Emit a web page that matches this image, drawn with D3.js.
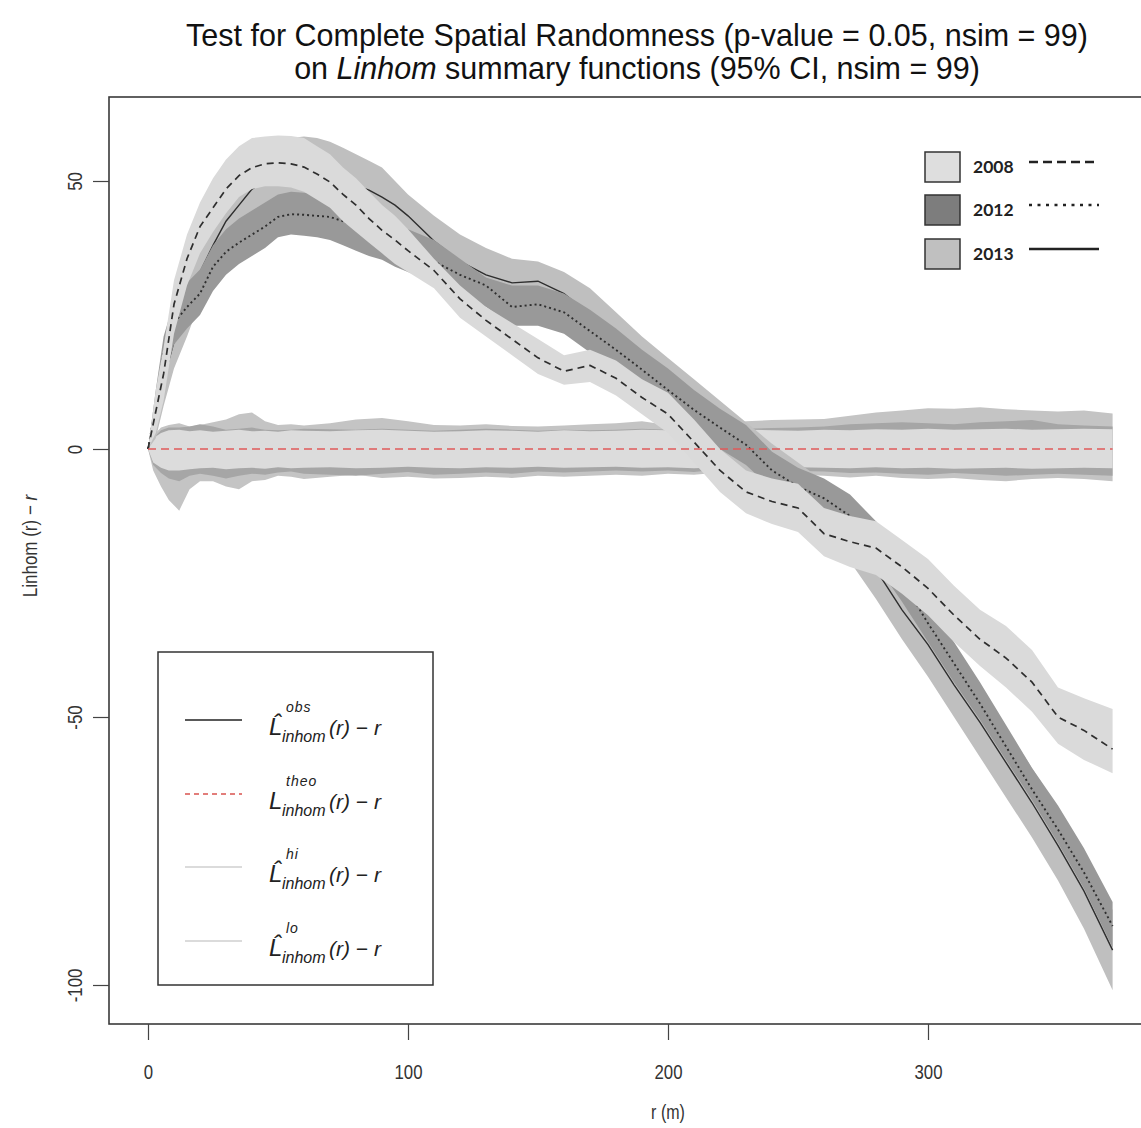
<!DOCTYPE html>
<html>
<head>
<meta charset="utf-8">
<script src="https://cdn.jsdelivr.net/npm/d3@7"></script>
<style>
  body { margin: 0; background: #fff; }
  svg { display: block; font-family: "Liberation Sans", Arial, sans-serif; }
</style>
</head>
<body>
<script>
// distances (m) where the observed curves and their 95% CI are read
var rObs = [0,3,6,10,15,20,25,30,35,40,45,50,55,60,65,70,75,80,85,90,95,100,110,120,130,140,150,160,170,180,190,200,210,220,230,240,250,260,270,280,290,300,310,320,330,340,350,360,371];

var obs2008 = [0,7,14,27,35.5,41.5,45,48.5,51,52.5,53.2,53.4,53.2,52.6,51.3,49.8,47.5,45.5,43,40.8,39,37,33.3,28,24,20.5,17,14.5,15.6,13.2,9.6,6.5,1.3,-4,-8,-9.8,-11,-15.8,-17.3,-18.5,-22,-26,-31,-35.5,-39,-43.5,-50,-52.5,-56];
var lo2008 = [0,3,9,21.5,30.5,36.5,40.5,44,47,48.5,49,49,48.8,48,46.5,45,42.5,40.5,38.5,36.5,34.5,33,30,24.5,21,17.5,14,12,12.5,10,6.5,3,-2.5,-8,-12,-14,-15.5,-20,-22,-23.5,-27,-31,-36,-40.5,-44.5,-49,-55,-58,-60.5];
var hi2008 = [0,11,19,31.5,40,46,50.5,54,56.5,58,58.3,58.5,58.4,58,56.5,55,52.5,50.5,48,45.5,43.5,41,35.5,30.5,26.5,23.5,20.5,17.5,18.5,16.5,13,10.5,5.5,0,-4,-5.5,-6.5,-11,-12.5,-13.5,-17,-20.5,-25.5,-30,-33,-37.5,-44.5,-46.5,-48.5];

var obs2012 = [0,8,18,23.5,26.5,29,34,36.8,38.5,40,41.5,43.3,43.8,43.7,43.5,43.3,42.5,41.5,40.5,39.3,38,37,35,32.5,30.5,26.5,27,25.5,22,18.5,14.8,11,7.3,4,0.8,-4,-7,-9.2,-12.5,-17.5,-24.5,-32.5,-40,-47.5,-55.5,-63.5,-71,-79,-89];
var lo2012 = [0,4,13,19.5,22.5,25,29.5,32.5,34.5,36,37.5,39.5,40,39.8,39.5,39,38,37,36,35.3,34,33,31,28.5,26.5,23,23,21.5,18,14.5,11,7,3.5,0,-3,-7.5,-10.5,-13.5,-16.5,-21.5,-28.5,-36,-43.5,-50.5,-58,-65.5,-73.5,-82,-93];
var hi2012 = [0,11,21,27.5,31,33.5,38,41,43,44.5,46,47.5,48,47.8,47.5,47,46.5,45.5,44.5,43.5,42,41,39,35.5,32,30.5,30.5,29,26,22.5,18.5,15,11,7.5,4.5,-0.5,-3.5,-5.5,-8.5,-13.5,-20.5,-28.5,-36,-43.5,-51.5,-59.5,-66.5,-74.5,-84.5];

var obs2013 = [0,6,13,20,26,33,38,42.5,45.5,48.5,50,51,51.5,51.5,51.2,50.8,50,49.2,48.3,47,45.5,43.5,38.8,35,32.5,31,31.3,29,25,20.5,16,12,8,4,0,-4,-7.5,-11,-15.5,-22.5,-30,-36.5,-44,-51,-58.5,-66,-74,-82.5,-93.5];
var lo2013 = [0,2,8,15,21,27.5,32.5,37,40,43,44.5,45.5,46,46,45.5,45,44,43.5,42.5,41.5,40,38,33.5,30,27.5,26,26,24,20,15.5,11,7,3,-1,-5,-9,-12.5,-16,-21,-28,-35.5,-42.5,-50,-57.5,-65,-72.5,-80.5,-89.5,-101];
var hi2013 = [0,10,17.5,25,31.5,38.5,44,48.5,52,55,56.5,57.5,58,58.3,58,57.3,56.2,55,53.8,52.5,50,47.5,43.5,40,37.5,35.5,35,33,30,25.5,21,17,13,9,5,1,-2.5,-6,-10.5,-17,-24.5,-30.5,-38,-45,-52,-59.5,-67,-75.5,-86];

// CSR simulation envelopes around the theoretical value
var rEnv = [0,2,5,8,12,16,20,25,30,35,40,45,50,55,60,70,80,90,100,110,120,130,140,150,160,170,180,190,200,210,220,230,240,250,260,270,280,290,300,310,320,330,340,350,360,371];
var envHi2013 = [0,2.5,4,4.5,4.8,4.2,4.5,5,5.5,6.5,6.8,5.2,4.5,4.6,4.4,4.8,5.5,5.8,5.2,4.5,4.4,4.6,4.3,4.2,4.4,4.6,4.8,5.2,4.5,4.2,4.4,5.2,5.4,5.5,5.6,6.2,6.8,7.2,7.6,7.5,7.8,7.4,7.2,7,7.2,6.6];
var envLo2013 = [0,-4,-7,-9.5,-11.5,-7.5,-6,-6,-7,-7.5,-6,-5.8,-5,-5.2,-5.6,-5.2,-4.8,-5.4,-5.2,-5.5,-5.4,-5.2,-5.4,-5,-5.2,-5,-4.8,-5,-4.6,-4.8,-4.4,-4.6,-5,-4.8,-5,-5.3,-5,-5.4,-5.6,-5.4,-5.8,-6,-5.6,-5.4,-5.6,-6];
var envHi2012 = [0,2,3.5,4,4,4.2,4.6,4.2,3.6,3.8,4,3.6,3.5,3.6,3.8,3.7,3.6,3.8,3.6,3.4,3.6,3.8,3.6,3.4,3.6,3.5,3.6,3.8,3.6,3.5,3.6,3.8,3.9,4,4.2,4.6,4.8,5,4.8,4.6,5,5.2,5.4,4.6,4.4,4.2];
var envLo2012 = [0,-3,-4.5,-5.5,-6,-5,-4.6,-5,-5.5,-5,-4.6,-4.8,-4.4,-4.2,-4.6,-4.8,-5,-4.6,-4.3,-4.8,-4.6,-4.4,-4.6,-4.2,-4.4,-4.2,-4,-4.2,-4,-4.3,-3.8,-4,-4.3,-4.1,-4.2,-4.5,-4.4,-4.6,-4.8,-4.5,-4.7,-5,-4.8,-4.6,-4.8,-5];
var envHi2008 = [0,2,3,3.5,3.6,3.3,3.5,3.2,3.4,3.6,3.3,3.4,3.2,3.5,3.4,3.3,3.5,3.6,3.4,3.2,3.3,3.5,3.4,3.2,3.5,3.3,3.4,3.6,3.5,3.3,3.4,3.6,3.5,3.4,3.6,3.5,3.7,3.6,3.8,3.6,3.7,3.8,3.6,3.7,3.8,3.7];
var envLo2008 = [0,-2.5,-3.5,-4,-4,-3.8,-3.6,-3.5,-3.8,-3.6,-3.5,-3.7,-3.4,-3.6,-3.5,-3.4,-3.6,-3.5,-3.3,-3.5,-3.6,-3.4,-3.5,-3.3,-3.5,-3.4,-3.3,-3.5,-3.4,-3.6,-3.4,-3.5,-3.6,-3.4,-3.5,-3.6,-3.4,-3.6,-3.5,-3.7,-3.6,-3.5,-3.7,-3.6,-3.5,-3.6];

var theoR = [0, 371];
var theoV = [0, 0];

var xTicks = [0, 100, 200, 300];
var yTicks = [-100, -50, 0, 50];
var years = ["2008", "2012", "2013"];
var legendKeys = ["obs", "theo", "hi", "lo"];

var W = 1141, H = 1128,
    frame = {left: 109, top: 97, right: 1160, bottom: 1024},
    squeeze = "scale(0.8,1)";

var x = d3.scaleLinear().domain([0, 300]).range([148, 928]),
    y = d3.scaleLinear().domain([0, 50]).range([449, 181]);

var svg = d3.select("body").append("svg")
    .attr("width", W)
    .attr("height", H);

function zip(rs, a, b) {
    return rs.map(function (r, i) { return {r: r, a: a[i], b: b ? b[i] : null}; });
}

var area = d3.area()
        .x(function (d) { return x(d.r); })
        .y0(function (d) { return y(d.a); })
        .y1(function (d) { return y(d.b); }),
    line = d3.line()
        .x(function (d) { return x(d.r); })
        .y(function (d) { return y(d.a); });

var plot = svg.append("g");

// envelopes of the simulated patterns (drawn first)
[[envLo2013, envHi2013, "#c4c4c4"],
 [envLo2012, envHi2012, "#a6a6a6"],
 [envLo2008, envHi2008, "#dcdcdc"]].forEach(function (e) {
    plot.append("path")
        .datum(zip(rEnv, e[0], e[1]))
        .attr("d", area)
        .attr("fill", e[2]);
});

// observed curves with their confidence bands
var layers = [
    {lo: lo2013, hi: hi2013, obs: obs2013, fill: "#bfbfbf", dash: null, w: 1.4},
    {lo: lo2012, hi: hi2012, obs: obs2012, fill: "#999999", dash: "2,3", w: 1.9},
    {lo: lo2008, hi: hi2008, obs: obs2008, fill: "#dadada", dash: "7,5", w: 1.7}
];
layers.forEach(function (l) {
    plot.append("path")
        .datum(zip(rObs, l.lo, l.hi))
        .attr("d", area)
        .attr("fill", l.fill);
    plot.append("path")
        .datum(zip(rObs, l.obs))
        .attr("d", line)
        .attr("fill", "none")
        .attr("stroke", "#2e2e2e")
        .attr("stroke-width", l.w)
        .attr("stroke-dasharray", l.dash);
});

plot.append("path")
    .datum(zip(theoR, theoV))
    .attr("d", line)
    .attr("fill", "none")
    .attr("stroke", "#e05a5a")
    .attr("stroke-width", 1.6)
    .attr("stroke-dasharray", "8,5");

// frame and axes
svg.append("rect")
    .attr("x", frame.left)
    .attr("y", frame.top)
    .attr("width", frame.right - frame.left)
    .attr("height", frame.bottom - frame.top)
    .attr("fill", "none")
    .attr("stroke", "#3a3a3a")
    .attr("stroke-width", 1.6);

var xAxis = svg.append("g")
    .attr("transform", "translate(0," + frame.bottom + ")")
    .call(d3.axisBottom(x).tickValues(xTicks).tickSize(16).tickPadding(24).tickFormat(String));
var yAxis = svg.append("g")
    .attr("transform", "translate(" + frame.left + ",0)")
    .call(d3.axisLeft(y).tickValues(yTicks).tickSize(16).tickFormat(String));

[xAxis, yAxis].forEach(function (a) {
    a.attr("font-family", null).attr("font-size", null);
    a.select(".domain").remove();
    a.selectAll(".tick line").attr("stroke", "#444").attr("stroke-width", 1.2);
    a.selectAll(".tick text")
        .attr("fill", "#333")
        .attr("font-size", 21);
});
xAxis.selectAll(".tick text").attr("transform", squeeze);
yAxis.selectAll(".tick text")
    .attr("x", null).attr("dy", null)
    .attr("text-anchor", "middle")
    .attr("transform", "translate(-27,0) rotate(-90) " + squeeze);

svg.append("text")
    .attr("transform", "translate(668,1119) " + squeeze)
    .attr("text-anchor", "middle")
    .attr("font-size", 20).attr("fill", "#333")
    .text("r (m)");

var yt = svg.append("text")
    .attr("transform", "translate(37,546) rotate(-90) scale(0.85,1)")
    .attr("text-anchor", "middle")
    .attr("font-size", 20).attr("fill", "#333");
yt.append("tspan").text("Linhom (r) \u2212 ");
yt.append("tspan").attr("font-style", "italic").text("r");

// title
svg.append("text")
    .attr("x", 637).attr("y", 46)
    .attr("text-anchor", "middle")
    .attr("font-size", 30.5).attr("fill", "#111")
    .text("Test for Complete Spatial Randomness (p-value = 0.05, nsim = 99)");
var t2 = svg.append("text")
    .attr("x", 637).attr("y", 79)
    .attr("text-anchor", "middle")
    .attr("font-size", 30.5).attr("fill", "#111");
t2.append("tspan").text("on ");
t2.append("tspan").attr("font-style", "italic").text("Linhom");
t2.append("tspan").text(" summary functions (95% CI, nsim = 99)");

// year legend (top right)
var yearFill = ["#dedede", "#7d7d7d", "#c0c0c0"],
    yearDash = ["9,5", "3,5.5", null],
    yearY = [167, 210, 254];
years.forEach(function (yr, i) {
    var g = svg.append("g");
    g.append("rect")
        .attr("x", 925).attr("y", yearY[i] - 15)
        .attr("width", 35).attr("height", 30)
        .attr("fill", yearFill[i])
        .attr("stroke", "#333").attr("stroke-width", 1.5);
    g.append("text")
        .attr("x", 973).attr("y", yearY[i] + 6)
        .style("font-family", "Lato, 'Open Sans', sans-serif")
        .attr("font-weight", 700).attr("font-size", 17.5).attr("fill", "#222")
        .text(yr);
    g.append("line")
        .attr("x1", 1029).attr("x2", 1099)
        .attr("y1", yearY[i] - 5).attr("y2", yearY[i] - 5)
        .attr("stroke", "#222").attr("stroke-width", 2.6)
        .attr("stroke-dasharray", yearDash[i]);
});

// function legend (bottom left)
svg.append("rect")
    .attr("x", 158).attr("y", 652)
    .attr("width", 275).attr("height", 333)
    .attr("fill", "#fff")
    .attr("stroke", "#333").attr("stroke-width", 1.5);

var keyY = [720, 794, 867, 941],
    keyStroke = ["#222", "#d9534f", "#cfcfcf", "#cfcfcf"],
    keyDash = [null, "5,4", null, null],
    keyHat = [true, false, true, true];
legendKeys.forEach(function (k, i) {
    var ly = keyY[i], g = svg.append("g");
    g.append("line")
        .attr("x1", 185).attr("x2", 242)
        .attr("y1", ly).attr("y2", ly)
        .attr("stroke", keyStroke[i]).attr("stroke-width", 1.6)
        .attr("stroke-dasharray", keyDash[i]);
    g.append("text")
        .attr("x", 269).attr("y", ly + 15)
        .attr("font-style", "italic").attr("font-size", 24).attr("fill", "#222")
        .text(keyHat[i] ? "L\u0302" : "L");
    g.append("text")
        .attr("x", 286).attr("y", ly - 8)
        .attr("font-style", "italic").attr("font-size", 14).attr("fill", "#222")
        .attr("letter-spacing", 1)
        .text(k);
    g.append("text")
        .attr("x", 282).attr("y", ly + 22)
        .attr("font-style", "italic").attr("font-size", 16).attr("fill", "#222")
        .text("inhom");
    g.append("text")
        .attr("x", 329).attr("y", ly + 15)
        .attr("font-style", "italic").attr("font-size", 21).attr("fill", "#222")
        .text("(r) \u2212 r");
});
</script>
</body>
</html>
